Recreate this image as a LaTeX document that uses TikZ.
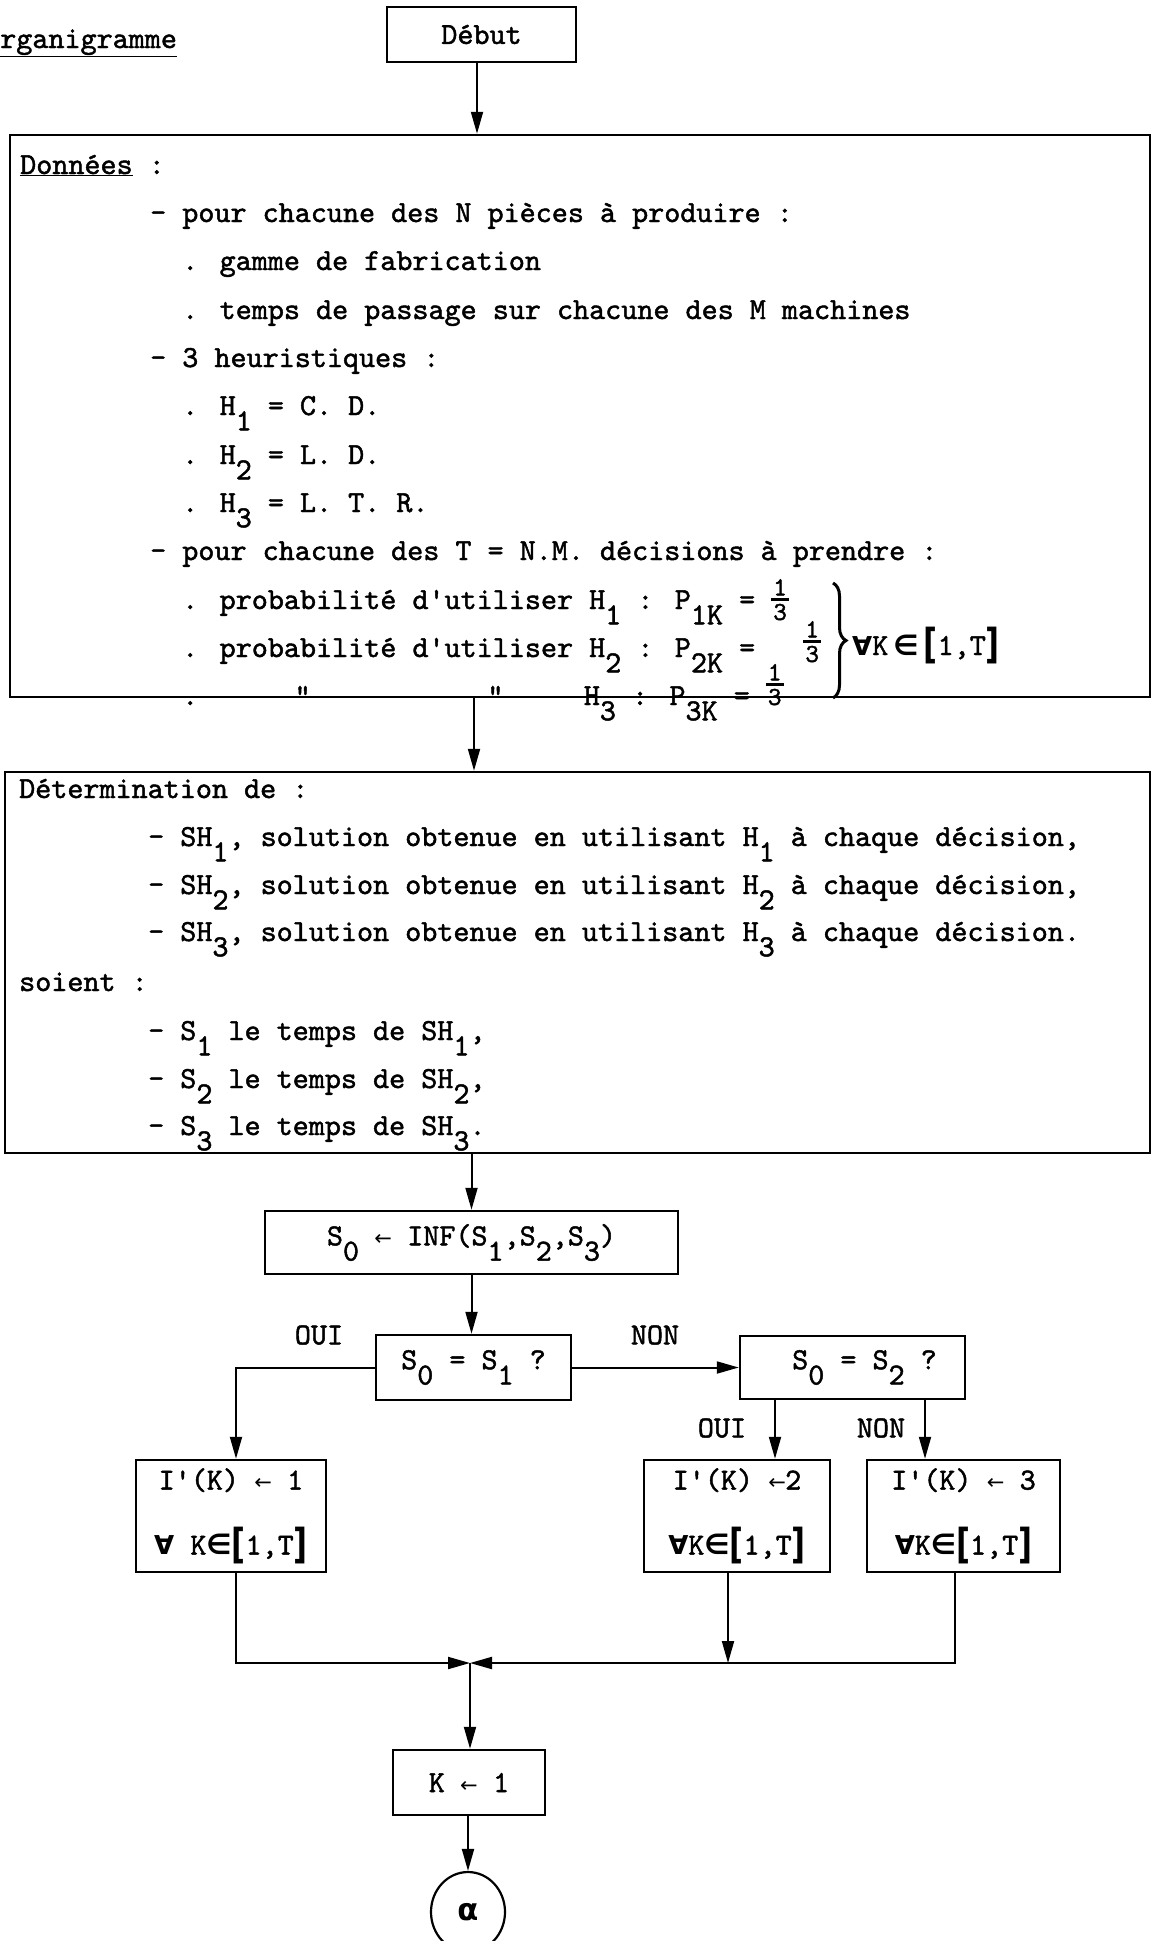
\documentclass[tikz,border=0pt]{standalone}
\usepackage{fontspec}
\usepackage{graphicx}
\usetikzlibrary{arrows.meta,shapes.geometric,decorations.pathreplacing}
\newfontfamily\dejavu{DejaVu Sans}
\newfontfamily\tw{lmmono10-regular.otf}[FakeBold=1.5]
\newcommand\sub[1]{\raisebox{-0.5em}{#1}}
\newcommand\arr{\makebox[0.525em]{\dejavu\fontsize{21}{21}\selectfont ←}}
\newcommand\fa{{\dejavu\bfseries\fontsize{26}{26}\selectfont ∀}}
\newcommand\el{{\dejavu\bfseries\fontsize{28}{28}\selectfont ∈}}
\newcommand\lb{\raisebox{-0.12em}{\scalebox{1}[1.35]{\dejavu\bfseries [}}}
\newcommand\rb{\raisebox{-0.12em}{\scalebox{1}[1.35]{\dejavu\bfseries ]}}}
\newcommand\fr[1]{\raisebox{#1}{\fontsize{26}{26}\selectfont\vbox{\offinterlineskip\halign{\hfil##\hfil\cr\kern2pt 1\kern2pt\cr\noalign{\kern3pt\hrule height 2.5pt\kern3pt}3\cr}}}}
\begin{document}
\begin{tikzpicture}[x=1pt,y=-1pt,
  every node/.style={font=\tw\fontsize{30.6}{36}\selectfont},
  txt/.style={anchor=base west, inner sep=0pt},
  bx/.style={draw, line width=2.5pt, inner sep=0pt},
  arw/.style={-{Triangle[length=22pt,width=12pt]}, line width=2pt}]
\clip (0,0) rectangle (1155,1941);
\fill[white] (0,0) rectangle (1155,1941);

\node[txt] (org) at (-16,48) {\underline{Organigramme}};
\node[bx, minimum width=189pt, minimum height=55pt] (debut) at (481.5,34.5) {Début};

% Box 1
\node[bx, minimum width=1140pt, minimum height=562pt] (donnees) at (580,416) {};
\node[txt] (d0) at (20,174) {\underline{Données} :};
\node[txt] (d1) at (150,222) {- pour chacune des N pièces à produire :};
\node[txt] (d2) at (182,270) {. gamme de fabrication};
\node[txt] (d3) at (182,319) {. temps de passage sur chacune des M machines};
\node[txt] (d4) at (150,367) {- 3 heuristiques :};
\node[txt] (d5) at (182,415) {. H\sub{1} = C. D.};
\node[txt] (d6) at (182,464) {. H\sub{2} = L. D.};
\node[txt] (d7) at (182,512) {. H\sub{3} = L. T. R.};
\node[txt] (d8) at (150,560) {- pour chacune des T = N.M. décisions à prendre :};
\node[txt] (d9) at (182,609) {. probabilité d\textquotesingle utiliser H\sub{1} : P\sub{1K} = \fr{-11pt}};
\node[txt] (d10) at (182,657) {. probabilité d\textquotesingle utiliser H\sub{2} : P\sub{2K} =\hspace*{1.575em}\fr{-5pt}};
\node[txt] (d11) at (182,705) {.\hspace*{3.15em}"\hspace*{5.775em}"\hspace*{2.625em}H\sub{3} : P\sub{3K} = \fr{0pt}};
\draw[line width=3pt, decorate, decoration={brace, amplitude=13pt}] (833,583) -- (833,698);
\node[txt] (qK) at (852,655) {\fa K\,\el\,\lb 1,T\rb};

% Box 2
\node[bx, minimum width=1145pt, minimum height=381pt] (determ) at (577.5,962.5) {};
\node[txt] (e0) at (19,798) {Détermination de :};
\node[txt] (e1) at (148,846) {- SH\sub{1}, solution obtenue en utilisant H\sub{1} à chaque décision,};
\node[txt] (e2) at (148,894) {- SH\sub{2}, solution obtenue en utilisant H\sub{2} à chaque décision,};
\node[txt] (e3) at (148,941) {- SH\sub{3}, solution obtenue en utilisant H\sub{3} à chaque décision.};
\node[txt] (e4) at (19,991) {soient :};
\node[txt] (e5) at (148,1040) {- S\sub{1} le temps de SH\sub{1},};
\node[txt] (e6) at (148,1088) {- S\sub{2} le temps de SH\sub{2},};
\node[txt] (e7) at (148,1135) {- S\sub{3} le temps de SH\sub{3}.};

% Lower flowchart
\node[bx, minimum width=413pt, minimum height=63pt] (inf) at (471.5,1242.5) {S\sub{0} \arr{} INF(S\sub{1},S\sub{2},S\sub{3})};
\node[bx, minimum width=195pt, minimum height=65pt] (q1) at (473.5,1367.5) {S\sub{0} = S\sub{1} ?};
\node[bx, minimum width=225pt, minimum height=63pt] (q2) at (852.5,1367.5) {\hspace*{24pt}S\sub{0} = S\sub{2} ?};
\node (oui1) at (319,1335) {OUI};
\node (non1) at (655,1335) {NON};
\node (oui2) at (722,1428) {OUI};
\node (non2) at (881,1428) {NON};
\node[bx, minimum width=190pt, minimum height=112pt, align=center] (i1) at (231,1516) {I\textquotesingle(K) \arr{} 1\\[29pt]\fa{} K\el\lb 1,T\rb};
\node[bx, minimum width=186pt, minimum height=112pt, align=center] (i2) at (737,1516) {I\textquotesingle(K) \arr2\\[29pt]\fa K\el\lb 1,T\rb};
\node[bx, minimum width=193pt, minimum height=112pt, align=center] (i3) at (963.5,1516) {I\textquotesingle(K) \arr{} 3\\[29pt]\fa K\el\lb 1,T\rb};
\coordinate (J) at (470,1663);
\node[bx, minimum width=152pt, minimum height=65pt] (k1) at (469,1782.5) {K \arr{} 1};
\node[draw, ellipse, line width=2.2pt, minimum width=74pt, minimum height=80pt, inner sep=0pt] (alpha) at (468,1912) {\dejavu\bfseries α};

% Connectors
\draw[arw] ([xshift=-4.5pt]debut.south) -- ([xshift=-4.5pt]debut.south |- donnees.north);
\draw[arw] ([xshift=-106pt]donnees.south) -- ([xshift=-106pt]donnees.south |- determ.north);
\draw[arw] (inf.north |- determ.south) -- (inf.north);
\draw[arw] (inf.south) -- (inf.south |- q1.north);
\draw[arw] (q1.west) -| ([xshift=5pt]i1.north);
\draw[arw] (q1.east) -- (q2.west);
\draw[arw] ([xshift=-77.5pt]q2.south) -- ([xshift=-77.5pt]q2.south |- i2.north);
\draw[arw] ([xshift=72.5pt]q2.south) -- ([xshift=72.5pt]q2.south |- i3.north);
\draw[arw] ([xshift=5pt]i1.south) |- (J);
\draw[arw] ([xshift=-8.5pt]i3.south) |- (J);
\draw[arw] ([xshift=-9pt]i2.south) -- ([xshift=-9pt]i2.south |- J);
\draw[arw] (J) -- (J |- k1.north);
\draw[arw] (alpha.north |- k1.south) -- (alpha.north);
\end{tikzpicture}
\end{document}
